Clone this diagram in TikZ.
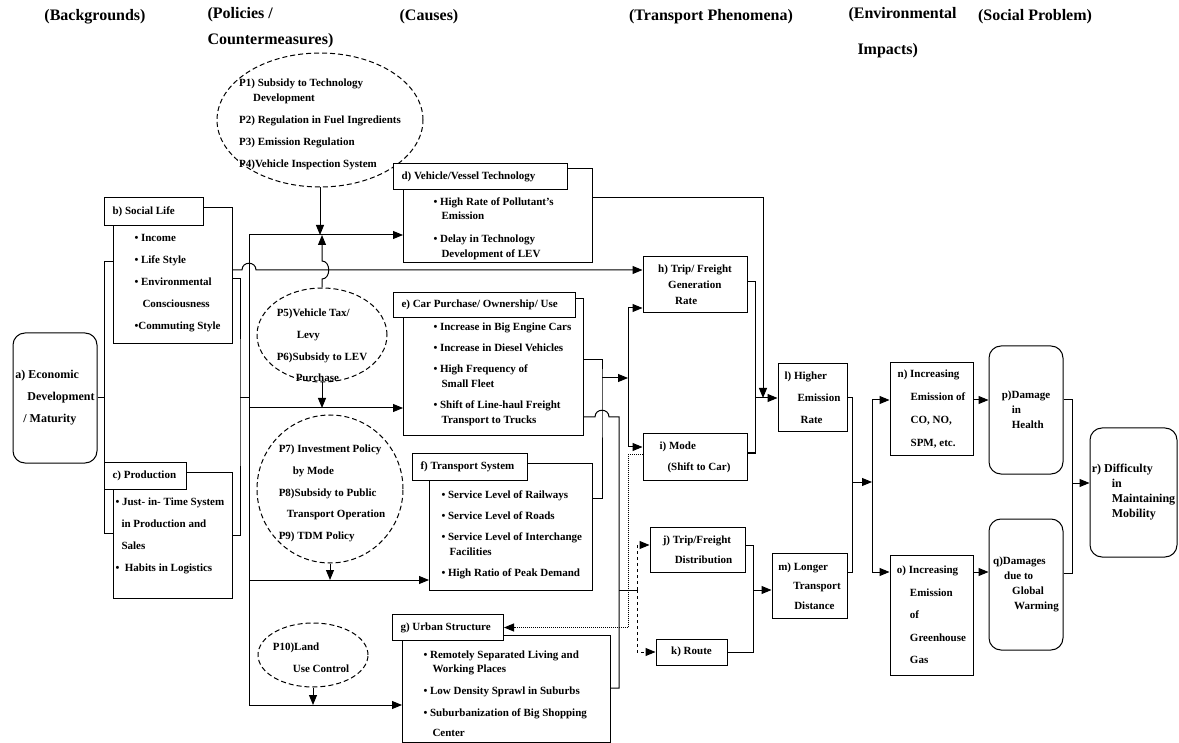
\documentclass[tikz,border=0pt]{standalone}
\usepackage{fontspec}
\setmainfont{Liberation Serif}
\usetikzlibrary{arrows.meta,shapes.geometric}

\begin{document}
\begin{tikzpicture}[x=1pt,y=-1pt,line width=1pt,>={Triangle[length=10pt,width=8pt]}]
	\tikzstyle{header} = [inner sep=0pt, font=\fontsize{16}{26}\selectfont\bfseries]
	\tikzstyle{bodybox} = [draw, anchor=north west, inner sep=0pt]
	\tikzstyle{tab} = [draw, fill=white, anchor=north west, inner xsep=8pt, inner ysep=0pt, align=flush left, font=\fontsize{11}{13}\selectfont\bfseries]
	\tikzstyle{txt} = [anchor=north west, inner sep=0pt, align=left, font=\fontsize{11}{14.5}\selectfont\bfseries]
	\tikzstyle{box} = [draw, align=left, inner sep=0pt, font=\fontsize{11}{16}\selectfont\bfseries]
	\tikzstyle{rbox} = [box, rounded corners=12pt, font=\fontsize{11}{15}\selectfont\bfseries]
	\tikzstyle{policy} = [draw, ellipse, dash pattern=on 5pt off 3pt, inner sep=0pt]
	\tikzstyle{ptext} = [align=left, inner sep=0pt, font=\fontsize{11}{21.7}\selectfont\bfseries]

	\useasboundingbox (0,0) rectangle (1179,743);

	\node[header] (hback) at (95,17) {(Backgrounds)};
	\node[header, anchor=north west, align=left] (hpol) at (207,7) {(Policies /\\Countermeasures)};
	\node[header] (hcause) at (429,17) {(Causes)};
	\node[header] (htrans) at (711,17) {(Transport Phenomena)};
	\node[header, anchor=north west, align=left] (henv) at (848,7) {(Environmental\\[10pt]\hspace*{9pt}Impacts)};
	\node[header] (hsoc) at (1035,17) {(Social Problem)};

	\node[policy, minimum width=206, minimum height=134] (pol14) at (320,120) {};
	\node[ptext, font=\fontsize{11}{15}\selectfont\bfseries] (pol14txt) at (320,124) {P1) Subsidy to Technology\\\hspace*{14pt}Development\\[7pt]P2) Regulation in Fuel Ingredients\\[7pt]P3) Emission Regulation\\[7pt]P4)Vehicle Inspection System};
	\node[policy, minimum width=130, minimum height=94] (pol56) at (322,335) {};
	\node[ptext] (pol56txt) at (322,345.5) {P5)Vehicle Tax/\\\hspace*{20pt}Levy\\P6)Subsidy to LEV\\\hspace*{19pt}Purchase};
	\node[policy, minimum width=146, minimum height=148] (pol79) at (330,489) {};
	\node[ptext] (pol79txt) at (332,493.5) {P7) Investment Policy\\\hspace*{14pt}by Mode\\P8)Subsidy to Public\\\hspace*{8pt}Transport Operation\\P9) TDM Policy};
	\node[policy, minimum width=110, minimum height=64] (pol10) at (313,655) {};
	\node[ptext] (pol10txt) at (311,657.5) {P10)Land\\\hspace*{20pt}Use Control};

	\node[rbox, minimum width=84, minimum height=130, font=\fontsize{12}{22}\selectfont\bfseries] (a) at (55,398) {a) Economic\\\hspace*{12pt}Development\\\hspace*{8pt}/ Maturity};

	\node[bodybox, minimum width=119, minimum height=136] (bbody) at (113,207) {};
	\node[tab, text width=83, minimum height=28] (btab) at (104,197) {b) Social Life};
	\node[txt] (btext) at (134,234) {• Income\\[7.5pt]• Life Style\\[7.5pt]• Environmental\\[7.5pt]\hspace*{8pt}Consciousness\\[7.5pt]•Commuting Style};

	\node[bodybox, minimum width=119, minimum height=126] (cbody) at (113,472) {};
	\node[tab, text width=66, minimum height=27] (ctab) at (104,462) {c) Production};
	\node[txt] (ctext) at (115,497) {• Just- in- Time System\\[7.5pt]\hspace*{6pt}in Production and\\[7.5pt]\hspace*{6pt}Sales\\[7.5pt]•\ \ Habits in Logistics};

	\node[bodybox, minimum width=189, minimum height=94] (dbody) at (403,168) {};
	\node[tab, text width=158, minimum height=26] (dtab) at (393,163) {d) Vehicle/Vessel Technology};
	\node[txt] (dtext) at (433,197) {• High Rate of Pollutant's\\\hspace*{8pt}Emission\\[8.5pt]• Delay in Technology\\\hspace*{8pt}Development of LEV};

	\node[bodybox, minimum width=180, minimum height=137] (ebody) at (403,298) {};
	\node[tab, text width=166, minimum height=25] (etab) at (393,292) {e) Car Purchase/ Ownership/ Use};
	\node[txt] (etext) at (433,322) {• Increase in Big Engine Cars\\[6.5pt]• Increase in Diesel Vehicles\\[7pt]• High Frequency of\\\hspace*{8pt}Small Fleet\\[7pt]• Shift of Line-haul Freight\\\hspace*{8pt}Transport to Trucks};

	\node[bodybox, minimum width=163, minimum height=127] (fbody) at (429,463) {};
	\node[tab, text width=99, minimum height=27] (ftab) at (412,453) {f) Transport System};
	\node[txt] (ftext) at (441,490) {• Service Level of Railways\\[7pt]• Service Level of Roads\\[6.5pt]• Service Level of Interchange\\\hspace*{8pt}Facilities\\[7pt]• High Ratio of Peak Demand};

	\node[bodybox, minimum width=208, minimum height=107] (gbody) at (402,635) {};
	\node[tab, text width=95, minimum height=26] (gtab) at (392,614) {g) Urban Structure};
	\node[txt] (gtext) at (423,650) {• Remotely Separated Living and\\\hspace*{9pt}Working Places\\[7.5pt]• Low Density Sprawl in Suburbs\\[7.5pt]• Suburbanization of Big Shopping\\[5.5pt]\hspace*{9pt}Center};

	\node[box, minimum width=104, minimum height=56] (h) at (695,285) {h) Trip/ Freight\\\hspace*{10pt}Generation\\\hspace*{17pt}Rate};
	\node[box, minimum width=104, minimum height=46] (i) at (695,457) {i) Mode\\[5pt]\hspace*{8pt}(Shift to Car)};
	\node[box, minimum width=95, minimum height=45] (j) at (697.5,549.5) {j) Trip/Freight\\[4pt]\hspace*{12pt}Distribution};
	\node[box, minimum width=71, minimum height=26] (k) at (691.5,652) {k) Route};
	\node[box, minimum width=69, minimum height=68] (l) at (812.5,398) {l) Higher\\[6pt]\hspace*{13pt}Emission\\[6pt]\hspace*{16pt}Rate};
	\node[box, minimum width=75, minimum height=65] (m) at (809.5,586) {m) Longer\\[3.5pt]\hspace*{15pt}Transport\\[3.5pt]\hspace*{16pt}Distance};

	\node[box, minimum width=83, minimum height=92] (n) at (931.5,409) {n) Increasing\\[6.7pt]\hspace*{13pt}Emission of\\[6.7pt]\hspace*{13pt}CO, NO,\\[6.7pt]\hspace*{13pt}SPM, etc.};
	\node[box, minimum width=83, minimum height=120] (o) at (931.5,615) {o) Increasing\\[6.5pt]\hspace*{13pt}Emission\\[6.5pt]\hspace*{13pt}of\\[6.5pt]\hspace*{13pt}Greenhouse\\[6.5pt]\hspace*{13pt}Gas};

	\node[rbox, minimum width=74, minimum height=128] (p) at (1026,410) {p)Damage\\\hspace*{10pt}in\\\hspace*{10pt}Health};
	\node[rbox, minimum width=74, minimum height=131] (q) at (1026,584.5) {q)Damages\\\hspace*{11pt}due to\\\hspace*{19pt}Global\\\hspace*{21pt}Warming};
	\node[rbox, minimum width=87, minimum height=129, font=\fontsize{12}{15}\selectfont\bfseries] (r) at (1133.5,492.5) {r) Difficulty\\\hspace*{20pt}in\\\hspace*{20pt}Maintaining\\\hspace*{20pt}Mobility};

	\coordinate (abus) at (104,398);
	\coordinate (bcbus) at (240,398);
	\coordinate (bustop) at (249,235);
	\coordinate (busbot) at (249,705);
	\draw (a.east) -- (abus) |- (bbody.west |- 0,262);
	\draw (abus) |- (cbody.west |- 0,533);
	\draw (bbody.east |- 0,279) -| (bcbus) |- (cbody.east |- 0,535);
	\draw (bcbus) -- (bcbus -| bustop);
	\draw (bustop) -- (busbot);
	\draw[->] (bustop) -- (dbody.west |- bustop);
	\draw[->] (bustop |- 0,408) -- (ebody.west |- 0,408);
	\draw[->] (bustop |- 0,580) -- (fbody.west |- 0,580);
	\draw[->] (busbot) -- (gbody.west |- busbot);
	\draw[->] (bbody.east |- 0,270) -- (242,270) .. controls (242,261) and (256,261) .. (256,270) -- (h.west |- 0,270);

	\draw[->] (pol14.south) -- (pol14.south |- bustop);
	\draw[->] (pol56.north) -- (322,279) .. controls (331,279) and (331,261) .. (322,261) -- (pol56.north |- bustop);
	\draw[->] (pol56.south) -- (pol56.south |- 0,408);
	\draw[->] (pol79.south) -- (pol79.south |- 0,580);
	\draw[->] (pol10.south) -- (pol10.south |- busbot);

	\coordinate (efjoin) at (602,378);
	\coordinate (hisplit) at (628,378);
	\coordinate (egjoin) at (619,590);
	\coordinate (jksplit) at (637,590);
	\draw (ebody.east |- 0,360) -| (efjoin) |- (fbody.east |- 0,498);
	\draw[->] (efjoin) -- (hisplit);
	\draw[->] (hisplit) |- (h.west |- 0,308);
	\draw[->] (hisplit) |- (i.west |- 0,447);
	\draw (ebody.east |- 0,417) -- (595,417) .. controls (595,408) and (609,408) .. (609,417) -- (egjoin |- 0,417) |- (gbody.east |- 0,688);
	\draw (egjoin) -- (jksplit);
	\draw[->, dashed] (jksplit) |- (j.west |- 0,545);
	\draw[->, dashed] (jksplit) |- (k.west);
	\draw[->, densely dotted] (i.west |- 0,454) -| (hisplit |- gtab.east) -- (gtab.east);

	\coordinate (hijoin) at (755,398);
	\coordinate (dl) at (763,398);
	\coordinate (jkjoin) at (753,590);
	\draw (h.east |- 0,282) -| (hijoin);
	\draw (i.east |- 0,453) -| (hijoin);
	\draw[->] (hijoin) -- (l.west);
	\draw[->] (dbody.east |- 0,198) -| (dl);
	\draw (j.east |- 0,545) -| (jkjoin);
	\draw (k.east) -| (jkjoin);
	\draw[->] (jkjoin) -- (m.west |- jkjoin);

	\coordinate (lmjoin) at (852,482);
	\coordinate (nosplit) at (872,482);
	\coordinate (pqjoin) at (1072,483);
	\draw (l.east) -| (lmjoin);
	\draw (m.east |- 0,572) -| (lmjoin);
	\draw[->] (lmjoin) -- (nosplit);
	\draw[->] (nosplit) |- (n.west |- 0,400);
	\draw[->] (nosplit) |- (o.west |- 0,572);
	\draw[->] (n.east |- 0,400) -- (p.west |- 0,400);
	\draw[->] (o.east |- 0,572) -- (q.west |- 0,572);
	\draw (p.east |- 0,400) -| (pqjoin);
	\draw (q.east |- 0,573) -| (pqjoin);
	\draw[->] (pqjoin) -- (r.west |- pqjoin);
\end{tikzpicture}
\end{document}
